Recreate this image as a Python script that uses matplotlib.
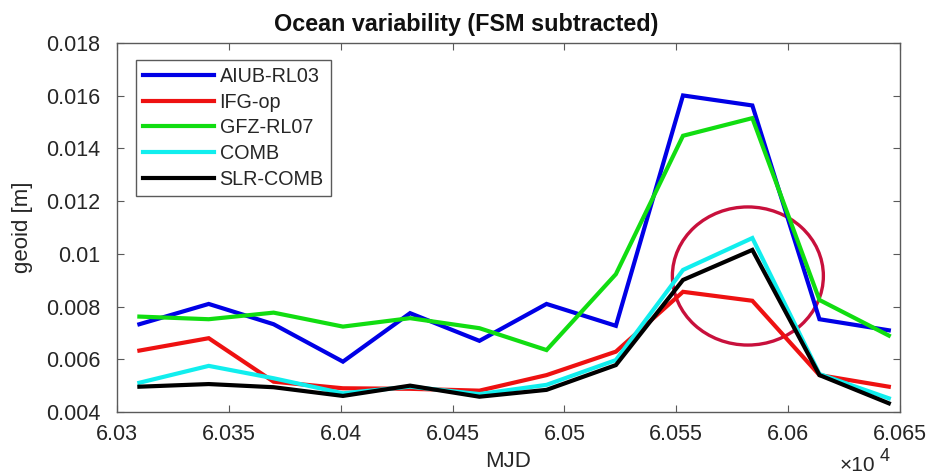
import matplotlib
matplotlib.use("Agg")
import matplotlib.pyplot as plt
from matplotlib.patches import Ellipse
from matplotlib.ticker import FuncFormatter, MultipleLocator

plt.rcParams['font.family'] = ['Liberation Sans', 'DejaVu Sans']

mjd = [60310, 60341, 60370, 60401, 60431, 60462, 60492, 60523, 60553, 60584, 60614, 60645]
aiub = [0.00733, 0.00810, 0.00733, 0.00591, 0.00775, 0.00670, 0.00810, 0.00727, 0.01601, 0.01563, 0.00752, 0.00710]
ifg = [0.00633, 0.00680, 0.00515, 0.00490, 0.00488, 0.00481, 0.00540, 0.00629, 0.00856, 0.00822, 0.00540, 0.00496]
gfz = [0.00762, 0.00752, 0.00777, 0.00724, 0.00756, 0.00718, 0.00635, 0.00923, 0.01448, 0.01515, 0.00825, 0.00690]
comb = [0.00511, 0.00575, 0.00528, 0.00471, 0.00496, 0.00468, 0.00503, 0.00597, 0.00939, 0.01060, 0.00544, 0.00452]
slr = [0.00496, 0.00506, 0.00494, 0.00461, 0.00500, 0.00458, 0.00484, 0.00578, 0.00901, 0.01015, 0.00540, 0.00433]

series = [
    ("AIUB-RL03", aiub, "#0000e6"),
    ("IFG-op", ifg, "#ee1111"),
    ("GFZ-RL07", gfz, "#11dd11"),
    ("COMB", comb, "#11eeee"),
    ("SLR-COMB", slr, "#000000"),
]

fig = plt.figure(figsize=(9.27, 4.74), dpi=100)
ax = fig.add_axes([117/927, 1 - 412/474, (900-117)/927, (412-43)/474])

for name, vals, col in series:
    ax.plot(mjd, vals, color=col, lw=3.0, label=name, solid_joinstyle='miter')

ax.set_xlim(60300, 60650)
ax.set_ylim(0.004, 0.018)
ax.xaxis.set_major_locator(MultipleLocator(50))
ax.yaxis.set_major_locator(MultipleLocator(0.002))
ax.xaxis.set_major_formatter(FuncFormatter(lambda v, p: "%g" % round(v / 1e4, 4)))
ax.yaxis.set_major_formatter(FuncFormatter(lambda v, p: "%g" % round(v, 4)))

axcol = "#262626"
for s in ax.spines.values():
    s.set_color("#5a5a5a")
    s.set_linewidth(1.0)
ax.tick_params(direction='in', length=5, width=0.8, color="#5a5a5a",
               labelsize=15.5, labelcolor=axcol, top=True, right=True)
ax.tick_params(axis='y', pad=12)
ax.tick_params(axis='x', pad=9)

ax.set_title("Ocean variability (FSM subtracted)", fontsize=16.8, fontweight='bold',
             color="#111111", x=(466-117)/783, pad=9)
ax.set_xlabel("MJD", fontsize=16, color=axcol, labelpad=4)
ax.set_ylabel("geoid [m]", fontsize=16, color=axcol, labelpad=9)
ax.text(0.968, -0.118, "×10", transform=ax.transAxes, ha='right', va='top',
        fontsize=15, color=axcol)
ax.text(0.974, -0.098, "4", transform=ax.transAxes, ha='left', va='top',
        fontsize=13, color=axcol)

leg = ax.legend(loc='upper left', bbox_to_anchor=(0.024, 0.954), fontsize=14.2,
                handlelength=3.6, handletextpad=0.3, labelspacing=0.34,
                borderpad=0.35, borderaxespad=0, fancybox=False, framealpha=1)
leg.get_frame().set_edgecolor("#5a5a5a")
leg.get_frame().set_linewidth(1.0)
for t in leg.get_texts():
    t.set_color(axcol)

ell = Ellipse((60582, 0.00916), width=67.5, height=0.00524, fill=False,
              edgecolor="#c8103c", lw=2.4)
ax.add_patch(ell)

fig.savefig("out.png", dpi=100)
